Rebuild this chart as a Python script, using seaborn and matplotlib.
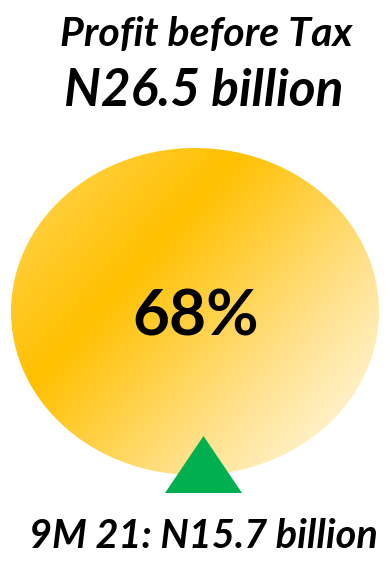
import numpy as np
import pandas as pd
import matplotlib
matplotlib.use("Agg")
import matplotlib.pyplot as plt
from matplotlib.patches import Ellipse
from matplotlib.colors import LinearSegmentedColormap
import seaborn as sns

# Figures shown on the card
title_text = "Profit before Tax"
current_value = 26.5          # N billion, current period
prior_label = "9M 21"
prior_value = 15.7            # N billion, prior period
growth_pct = 68               # % change

sns.set_theme(style="white")
plt.rcParams["font.family"] = ["Lato", "DejaVu Sans"]

W, H = 386, 563
fig = plt.figure(figsize=(W / 100, H / 100), dpi=100)
ax = fig.add_axes([0, 0, 1, 1])

# Gradient-filled ellipse
cx, cy, ew, eh = 195, 311.5, 368, 327
x0, x1 = cx - ew / 2, cx + ew / 2
y0, y1 = cy - eh / 2, cy + eh / 2
cmap = LinearSegmentedColormap.from_list(
    "gold",
    [(0.0, "#FFD85E"), (0.35, "#FFC000"), (0.7, "#FFE28F"), (1.0, "#FFFDF5")],
)
n = 400
gx, gy = np.meshgrid(np.linspace(0, 1, n), np.linspace(0, 1, n))
dx, dy = ew, eh
t = (gx * dx * dx + gy * dy * dy) / (dx * dx + dy * dy)
img = ax.imshow(cmap(t), extent=(x0, x1, y1, y0), origin="upper",
                interpolation="bilinear", zorder=1)
ell = Ellipse((cx, cy), ew, eh, facecolor="none", edgecolor="none", zorder=1)
ax.add_patch(ell)
img.set_clip_path(ell)

# Up-arrow triangle marker
tri = [(-1, -0.74), (1, -0.74), (0, 0.74), (-1, -0.74)]
marker_df = pd.DataFrame({"x": [203], "y": [463.5]})
sns.scatterplot(data=marker_df, x="x", y="y", marker=tri, s=(77 * 0.72) ** 2,
                color="#00B050", linewidth=0, ax=ax, zorder=3, legend=False)
ax.set_xlim(0, W)
ax.set_ylim(H, 0)
ax.axis("off")

# Texts
ax.text(206, 46, title_text, ha="center", va="baseline", fontsize=29.5,
        fontweight="bold", fontstyle="italic", color="black")
ax.text(204, 106, f"N{current_value} billion", ha="center", va="baseline",
        fontsize=37, fontweight="bold", fontstyle="italic", color="black")
ax.text(196, 335, f"{growth_pct}%", ha="center", va="baseline", fontsize=46,
        fontweight="bold", color="black", zorder=4)
ax.text(203, 548, f"{prior_label}: N{prior_value} billion", ha="center",
        va="baseline", fontsize=28.5, fontweight="bold", fontstyle="italic",
        color="black")

fig.savefig("out.png", dpi=100, facecolor="white")
